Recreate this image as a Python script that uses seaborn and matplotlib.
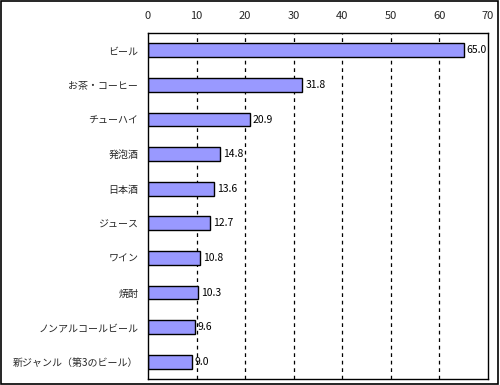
import matplotlib
matplotlib.use("Agg")
import matplotlib.pyplot as plt
import seaborn as sns
import pandas as pd
from matplotlib.patches import Rectangle

categories = ["ビール", "お茶・コーヒー", "チューハイ", "発泡酒", "日本酒", "ジュース",
              "ワイン", "焼酎", "ノンアルコールビール", "新ジャンル（第3のビール）"]
values = [65.0, 31.8, 20.9, 14.8, 13.6, 12.7, 10.8, 10.3, 9.6, 9.0]
x_ticks = [0, 10, 20, 30, 40, 50, 60, 70]

sns.set_theme(style="white")
plt.rcParams['font.family'] = ['Noto Sans CJK JP', 'DejaVu Sans']

df = pd.DataFrame({"cat": categories, "val": values})

fig = plt.figure(figsize=(5, 3.85), dpi=100)
ax = fig.add_axes([0.296, 0.0156, 0.68, 0.8984])

sns.barplot(data=df, x="val", y="cat", orient="h", color="#9999FF",
            saturation=1, width=0.4, edgecolor="black", linewidth=1, ax=ax)

ax.set_xlim(0, 70)
ax.set_ylim(len(categories) - 0.5, -0.5)
ax.xaxis.tick_top()
ax.set_xticks(x_ticks)
ax.set_xticklabels([str(t) for t in x_ticks], fontsize=8)
ax.tick_params(axis='x', length=0, pad=9)
ax.set_yticks(range(len(categories)))
ax.set_yticklabels(categories, fontsize=7.2)
ax.tick_params(axis='y', length=0, pad=7)
ax.set_xlabel("")
ax.set_ylabel("")

for t in x_ticks[1:-1]:
    ax.axvline(t, color="black", linestyle=(0, (3, 3)), linewidth=0.9, zorder=0)

for i, v in enumerate(values):
    ax.text(v + 0.6, i, f"{v:.1f}", va="center", ha="left", fontsize=7.5, color="black")

for s in ax.spines.values():
    s.set_visible(True)
    s.set_color("black")
    s.set_linewidth(1)

fig.patches.append(Rectangle((0.002, 0.003), 0.994, 0.994, transform=fig.transFigure,
                             fill=False, edgecolor="black", linewidth=1.2))

fig.savefig("out.png", dpi=100)
